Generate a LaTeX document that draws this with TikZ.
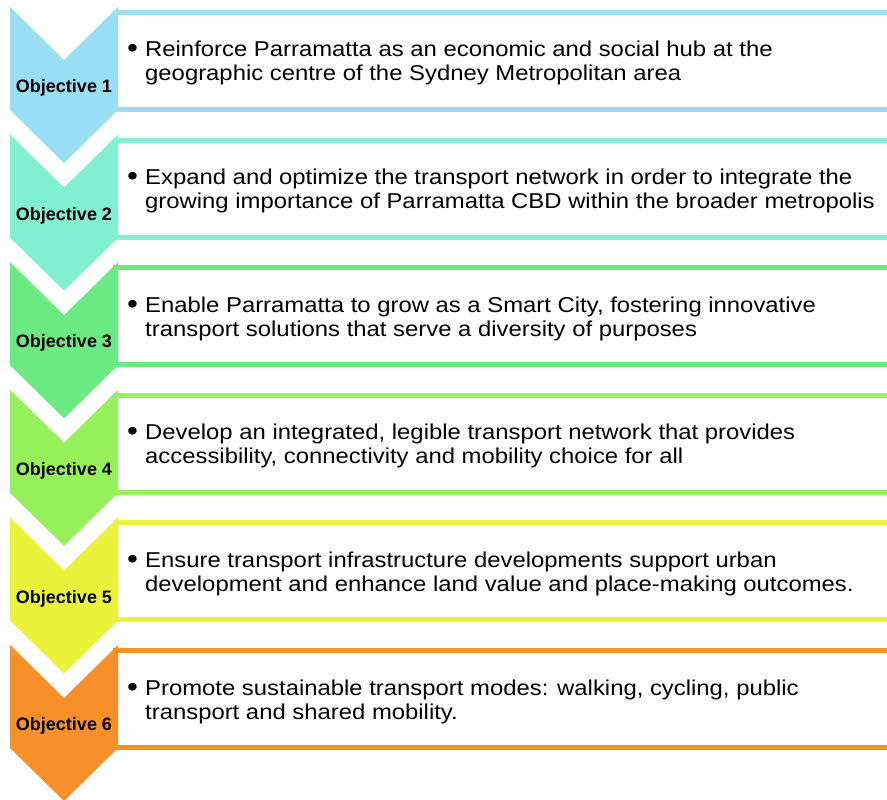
\documentclass[tikz,border=0pt]{standalone}
\usepackage{fontspec}
\setmainfont{Liberation Sans}
\newfontfamily\bodyfont{Liberation Sans}[FakeStretch=1.11]
\definecolor{obj1}{HTML}{98DFF3}
\definecolor{obj2}{HTML}{80F0D0}
\definecolor{obj3}{HTML}{6AEA80}
\definecolor{obj4}{HTML}{96F05A}
\definecolor{obj5}{HTML}{EAF23A}
\definecolor{obj6}{HTML}{F79029}
\begin{document}
\begin{tikzpicture}
[
x=1pt, y=-1pt,
chev/.style={fill=#1, draw=none},
textbox/.style={draw=#1, line width=5pt, fill=white},
label/.style={font=\fontsize{18}{20}\selectfont\bfseries, anchor=base, inner sep=0},
bullet/.style={font=\bodyfont\fontsize{28}{24}\selectfont, anchor=base west, inner sep=0},
item/.style={font=\bodyfont\fontsize{21.5}{24}\selectfont, anchor=base west, align=left, inner sep=0}
]
\useasboundingbox (0,0) rectangle (887,800);

%Boxes
\draw[textbox=obj1] (115,12.5)  rectangle (905,109.5);
\draw[textbox=obj2] (115,140.1) rectangle (905,237.1);
\draw[textbox=obj3] (115,267.7) rectangle (905,364.7);
\draw[textbox=obj4] (115,395.3) rectangle (905,492.3);
\draw[textbox=obj5] (115,522.9) rectangle (905,619.9);
\draw[textbox=obj6] (115,650.5) rectangle (905,747.5);

%Chevrons
\fill[chev=obj1] (10,7)     -- (64,60)    -- (118,7)     -- (118,110)   -- (64,163)   -- (10,110)   -- cycle;
\fill[chev=obj2] (10,134.6) -- (64,187.6) -- (118,134.6) -- (118,237.6) -- (64,290.6) -- (10,237.6) -- cycle;
\fill[chev=obj3] (10,262.2) -- (64,315.2) -- (118,262.2) -- (118,365.2) -- (64,418.2) -- (10,365.2) -- cycle;
\fill[chev=obj4] (10,389.8) -- (64,442.8) -- (118,389.8) -- (118,492.8) -- (64,545.8) -- (10,492.8) -- cycle;
\fill[chev=obj5] (10,517.4) -- (64,570.4) -- (118,517.4) -- (118,620.4) -- (64,673.4) -- (10,620.4) -- cycle;
\fill[chev=obj6] (10,645)   -- (64,698)   -- (118,645)   -- (118,748)   -- (64,801)   -- (10,748)   -- cycle;

%Labels
\node[label] (lab1) at (64,92.7)  {Objective 1};
\node[label] (lab2) at (64,220.3) {Objective 2};
\node[label] (lab3) at (64,347.9) {Objective 3};
\node[label] (lab4) at (64,475.5) {Objective 4};
\node[label] (lab5) at (64,603.1) {Objective 5};
\node[label] (lab6) at (64,730.7) {Objective 6};

%Bullets
\node[bullet] (bul1) at (127,58)    {•};
\node[bullet] (bul2) at (127,185.6) {•};
\node[bullet] (bul3) at (127,313.2) {•};
\node[bullet] (bul4) at (127,440.8) {•};
\node[bullet] (bul5) at (127,568.4) {•};
\node[bullet] (bul6) at (127,696)   {•};

%Texts (base = last line)
\node[item] (txt1) at (145,81)    {Reinforce Parramatta as an economic and social hub at the\\geographic centre of the Sydney Metropolitan area};
\node[item] (txt2) at (145,208.6) {Expand and optimize the transport network in order to integrate the\\growing importance of Parramatta CBD within the broader metropolis};
\node[item] (txt3) at (145,336.2) {Enable Parramatta to grow as a Smart City, fostering innovative\\transport solutions that serve a diversity of purposes};
\node[item] (txt4) at (145,463.8) {Develop an integrated, legible transport network that provides\\accessibility, connectivity and mobility choice for all};
\node[item] (txt5) at (145,591.4) {Ensure transport infrastructure developments support urban\\development and enhance land value and place-making outcomes.};
\node[item] (txt6) at (145,719)   {Promote sustainable transport modes: walking, cycling, public\\transport and shared mobility.};

\end{tikzpicture}
\end{document}
